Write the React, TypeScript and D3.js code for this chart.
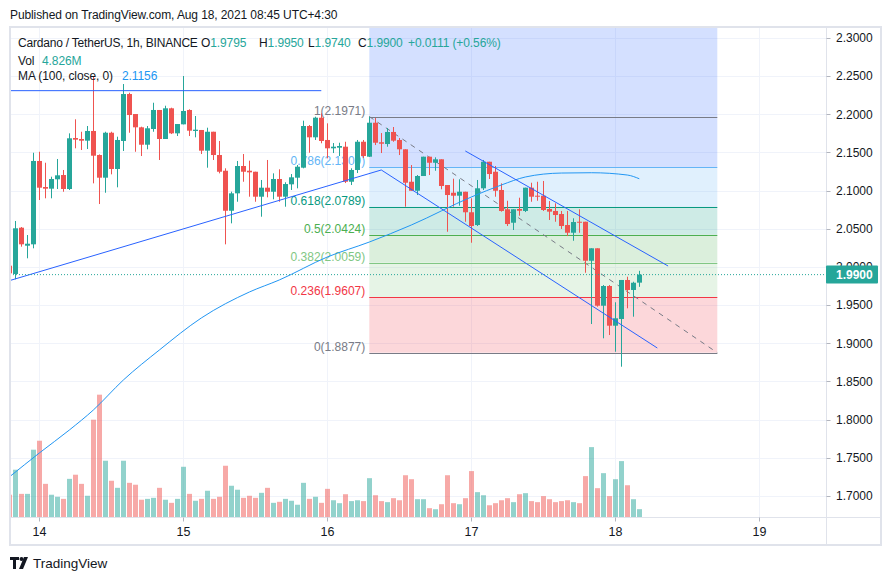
import React from 'react';
import * as d3 from 'd3';

// hourly candles, Aug 13 19:00 UTC -> Aug 18 04:00 UTC, [open, high, low, close]
const firstCandle = Date.UTC(2021, 7, 13, 19);
const candles: number[][] = [
  [2.0017, 2.0039, 1.9895, 1.9917], [1.9908, 2.0603, 1.9839, 2.0507], [2.0515, 2.0524, 2.0266, 2.0297],
  [2.0279, 2.0419, 2.0114, 2.0305], [2.0297, 2.1497, 2.0245, 2.1389], [2.1389, 2.151, 2.0878, 2.1039],
  [2.1048, 2.1366, 2.09, 2.1026], [2.1026, 2.1183, 2.09, 2.1153], [2.1149, 2.1415, 2.1022, 2.1201],
  [2.1205, 2.1271, 2.0986, 2.1022], [2.1022, 2.1751, 2.1009, 2.1686], [2.169, 2.1935, 2.1555, 2.1668],
  [2.1677, 2.1772, 2.1533, 2.1655], [2.1655, 2.1847, 2.1546, 2.1782], [2.1782, 2.2489, 2.1096, 2.1458],
  [2.1467, 2.1475, 2.0825, 2.117], [2.117, 2.1772, 2.0973, 2.1759], [2.1759, 2.1772, 2.1214, 2.1284],
  [2.1284, 2.1707, 2.1044, 2.1664], [2.1651, 2.2397, 2.152, 2.2266], [2.2266, 2.2283, 2.1759, 2.1991],
  [2.2004, 2.2004, 2.151, 2.183], [2.183, 2.1838, 2.1454, 2.1602], [2.1602, 2.1847, 2.1542, 2.1817],
  [2.1808, 2.2152, 2.1772, 2.2057], [2.2057, 2.2057, 2.1402, 2.1677], [2.1677, 2.2113, 2.1677, 2.2079],
  [2.2079, 2.2087, 2.1742, 2.1751], [2.1751, 2.1873, 2.1716, 2.1873], [2.1869, 2.2502, 2.1869, 2.2044],
  [2.2057, 2.2066, 2.1716, 2.1786], [2.1782, 2.1978, 2.1699, 2.1799], [2.1795, 2.1795, 2.148, 2.1524],
  [2.1524, 2.1825, 2.1301, 2.1772], [2.1772, 2.1772, 2.1402, 2.1467], [2.1467, 2.1651, 2.1227, 2.1248],
  [2.1261, 2.1293, 2.0297, 2.0737], [2.0737, 2.0987, 2.0572, 2.0965], [2.0965, 2.1389, 2.0855, 2.1323],
  [2.1323, 2.148, 2.1117, 2.1248], [2.1261, 2.1393, 2.0921, 2.124], [2.1248, 2.1248, 2.0855, 2.0921],
  [2.0921, 2.114, 2.0659, 2.1039], [2.1039, 2.1402, 2.0913, 2.0986], [2.0986, 2.1227, 2.0887, 2.1153],
  [2.1153, 2.128, 2.0855, 2.0921], [2.0921, 2.111, 2.079, 2.1087], [2.1083, 2.1218, 2.1009, 2.1175],
  [2.117, 2.1336, 2.1031, 2.1314], [2.1301, 2.1917, 2.1293, 2.1847], [2.1847, 2.186, 2.1497, 2.1699],
  [2.1699, 2.1969, 2.1664, 2.1956], [2.1956, 2.2013, 2.1621, 2.1651], [2.1664, 2.1882, 2.1424, 2.1555],
  [2.1555, 2.1624, 2.1493, 2.1576], [2.1563, 2.1628, 2.1454, 2.1585], [2.1576, 2.1641, 2.11, 2.1117],
  [2.1117, 2.1293, 2.1074, 2.1271], [2.1271, 2.1664, 2.1231, 2.1641], [2.1641, 2.1664, 2.1428, 2.1454],
  [2.1445, 2.1971, 2.1441, 2.189], [2.189, 2.1952, 2.1598, 2.1628], [2.1634, 2.1755, 2.1493, 2.1615],
  [2.1611, 2.1821, 2.1576, 2.1769], [2.1769, 2.1834, 2.1641, 2.1655], [2.1664, 2.169, 2.1467, 2.1542],
  [2.1542, 2.1542, 2.079, 2.1104], [2.1117, 2.1336, 2.0999, 2.0999], [2.0999, 2.1205, 2.0943, 2.1192],
  [2.1192, 2.1445, 2.1192, 2.1445], [2.1445, 2.1445, 2.1205, 2.1366], [2.1366, 2.1437, 2.1261, 2.1411],
  [2.1411, 2.1411, 2.1018, 2.1061], [2.1074, 2.1074, 2.0462, 2.0943], [2.0973, 2.1157, 2.079, 2.0934],
  [2.0934, 2.1149, 2.0803, 2.0986], [2.0986, 2.0986, 2.0593, 2.0717], [2.0717, 2.09, 2.0318, 2.0537],
  [2.055, 2.114, 2.0537, 2.1031], [2.1031, 2.1402, 2.1009, 2.1379], [2.1379, 2.1379, 2.1153, 2.1218],
  [2.1248, 2.1323, 2.0921, 2.0999], [2.1009, 2.1096, 2.0725, 2.0734], [2.0756, 2.0868, 2.0537, 2.0563],
  [2.058, 2.0756, 2.0485, 2.0756], [2.076, 2.0908, 2.0672, 2.0737], [2.0734, 2.1039, 2.072, 2.1039],
  [2.1039, 2.1104, 2.0855, 2.0921], [2.0934, 2.1117, 2.0868, 2.0921], [2.0934, 2.1127, 2.0734, 2.0747],
  [2.076, 2.0864, 2.0616, 2.0725], [2.0734, 2.0834, 2.0593, 2.0681], [2.0694, 2.0734, 2.0498, 2.0537],
  [2.055, 2.0734, 2.0406, 2.0449], [2.0449, 2.0638, 2.0344, 2.0589], [2.0593, 2.0756, 2.0449, 2.058],
  [2.0593, 2.0593, 1.9925, 2.0082], [2.0082, 2.0245, 1.9253, 2.0245], [2.0245, 2.0245, 1.948, 1.9493],
  [1.9493, 1.9764, 1.9066, 1.9751], [1.9751, 1.9764, 1.9109, 1.9231], [1.9231, 1.9538, 1.889, 1.9328],
  [1.9319, 1.983, 1.8694, 1.983], [1.983, 1.9873, 1.9459, 1.9699], [1.9699, 1.9807, 1.9349, 1.9794],
  [1.9795, 1.995, 1.974, 1.99],
];

// volume in millions
const volumes = [
  13.2, 27.7, 13.7, 13.7, 39.3, 44.5, 19.5, 13.2, 12.0, 10.8, 22.4, 24.8, 19.5, 12.6, 56.7, 71.2, 32.9, 21.3,
  17.2, 32.9, 20.1, 19.0, 10.3, 10.8, 11.4, 17.2, 10.3, 8.5, 10.8, 29.4, 13.7, 9.7, 10.8, 15.5, 10.8, 12.0,
  30.0, 18.4, 16.1, 11.4, 12.6, 11.4, 14.3, 17.2, 8.5, 9.1, 10.8, 9.7, 7.4, 20.1, 10.8, 12.0, 8.5, 16.6,
  10.0, 8.3, 13.5, 9.5, 10.0, 9.5, 22.8, 12.9, 9.5, 8.9, 11.2, 10.0, 24.5, 22.2, 10.6, 10.6, 5.4, 4.8,
  7.7, 24.5, 8.3, 7.7, 11.2, 26.9, 14.7, 12.9, 7.1, 8.3, 10.0, 11.2, 8.9, 13.5, 14.1, 9.5, 8.9, 12.4,
  10.6, 8.9, 9.5, 10.0, 8.9, 8.3, 24.0, 40.8, 17.0, 25.7, 12.4, 22.2, 32.7, 18.7, 10.6, 4.826,
];

// MA(100) read at hours since Aug 14 00:00 UTC
const maHours = [-5, 0, 5, 9, 14, 20, 27, 35, 40, 48, 55, 62, 72, 77, 81, 87, 92, 98, 100];
const maValues = [1.7249, 1.7563, 1.7864, 1.8126, 1.8519, 1.8912, 1.9332, 1.9672, 1.983, 2.0131, 2.0327,
  2.055, 2.0917, 2.1074, 2.1179, 2.1231, 2.1235, 2.1205, 2.1156];

const priceTicks = [2.3, 2.25, 2.2, 2.15, 2.1, 2.05, 2.0, 1.95, 1.9, 1.85, 1.8, 1.75, 1.7];
const dayLabels = ['14', '15', '16', '17', '18', '19'];

// drawings: [hour, price]
const resistance = [[-6, 2.231], [47, 2.231]];
const trendLine = [[-4.9, 1.9823], [57, 2.1271], [103, 1.8939]];
const channelTop = [[71, 2.152], [104.8, 2.0013]];
const fibStart = [55, 2.1971];
const fibEnd = [113, 1.8877];
const fibLevels = [0, 0.236, 0.382, 0.5, 0.618, 0.786, 1, 1.618];
const fibColors = ['#787b86', '#f23645', '#81c784', '#4caf50', '#089981', '#64b5f6', '#787b86', '#2962ff'];

const UP = '#26a69a';
const DOWN = '#ef5350';
const FONT = "'Liberation Sans', Arial, sans-serif";

const HOUR = 3600 * 1000;
const day0 = Date.UTC(2021, 7, 14);

const App = () => {
  const pane = { left: 10, right: 826.5, top: 27, bottom: 517.5 };
  const x = d3.scaleUtc().domain([new Date(day0), new Date(Date.UTC(2021, 7, 19))]).range([39.3, 759.3]);
  const xh = (h: number) => x(new Date(day0 + h * HOUR));
  const y = d3.scaleLinear().domain([1.7, 2.3]).range([496, 38]);
  const yv = d3.scaleLinear().domain([0, 80]).range([pane.bottom, pane.bottom - 138]);

  const bars = candles.map((c, i) => {
    const t = new Date(firstCandle + i * HOUR);
    return { t, o: c[0], h: c[1], l: c[2], c: c[3], v: volumes[i], up: c[3] >= c[0] };
  });

  const line = d3.line<number[]>().x((d) => xh(d[0])).y((d) => y(d[1]));
  const maLine = d3.line<number>()
    .x((d, i) => xh(maHours[i]))
    .y((d) => y(d))
    .curve(d3.curveMonotoneX);

  const fibX0 = xh(fibStart[0]);
  const fibX1 = xh(fibEnd[0]);
  const fibPrice = (lv: number) => fibEnd[1] + lv * (fibStart[1] - fibEnd[1]);
  const last = candles[candles.length - 1];
  const lastClose = last[3];

  return (
    <svg width={892} height={581} style={{ position: 'absolute', left: 0, top: 0, background: '#fff' }}
      fontFamily={FONT}>
      <defs>
        <clipPath id="pane">
          <rect x={pane.left} y={pane.top} width={pane.right - pane.left} height={pane.bottom - pane.top} />
        </clipPath>
      </defs>

      <text x={10} y={19} fontSize={12} letterSpacing={-0.1} fill="#131722">
        Published on TradingView.com, Aug 18, 2021 08:45 UTC+4:30
      </text>

      {/* grid */}
      <g stroke="#f0f3fa" strokeWidth={1}>
        {priceTicks.map((p) => (
          <line key={p} x1={pane.left} x2={pane.right} y1={Math.round(y(p)) + 0.5} y2={Math.round(y(p)) + 0.5} />
        ))}
        {dayLabels.map((d, i) => {
          const px = Math.round(xh(i * 24)) + 0.5;
          return <line key={d} x1={px} x2={px} y1={pane.top} y2={pane.bottom} />;
        })}
      </g>

      <g clipPath="url(#pane)">
        {/* fibonacci retracement */}
        {fibLevels.slice(0, -1).map((lv, i) => {
          const yA = y(fibPrice(fibLevels[i + 1]));
          const yB = y(fibPrice(lv));
          return (
            <rect key={lv} x={fibX0} y={yA} width={fibX1 - fibX0} height={yB - yA}
              fill={fibColors[i + 1 === 6 ? 7 : i + 1]} fillOpacity={0.2} />
          );
        })}
        {fibLevels.map((lv, i) => {
          const py = Math.round(y(fibPrice(lv))) + 0.5;
          if (py < pane.top) return null;
          return (
            <g key={lv}>
              <line x1={fibX0} x2={fibX1} y1={py} y2={py} stroke={fibColors[i]} strokeWidth={1} />
              <text x={fibX0 - 4} y={py - 3} textAnchor="end" fontSize={12} fill={fibColors[i]}>
                {`${lv}(${fibPrice(lv).toFixed(4)})`}
              </text>
            </g>
          );
        })}
        <path d={line([fibStart, fibEnd]) ?? ''} stroke="#787b86" strokeWidth={1} strokeDasharray="5 5" fill="none" />

        {/* volume */}
        {bars.map((b, i) => (
          <rect key={'v' + i} x={Math.round(x(b.t) - 2.5)} width={5} y={yv(b.v)} height={pane.bottom - yv(b.v)}
            fill={b.up ? UP : DOWN} fillOpacity={0.5} />
        ))}

        {/* candles */}
        {bars.map((b, i) => {
          const bx = Math.round(x(b.t) - 2.5);
          const top = y(Math.max(b.o, b.c));
          const bot = y(Math.min(b.o, b.c));
          const col = b.up ? UP : DOWN;
          return (
            <g key={'c' + i} fill={col}>
              <rect x={bx + 2} width={1} y={y(b.h)} height={Math.max(1, y(b.l) - y(b.h))} />
              <rect x={bx} width={5} y={top} height={Math.max(1, bot - top)} />
            </g>
          );
        })}

        <path d={maLine(maValues) ?? ''} stroke="#2196f3" strokeWidth={1} fill="none" />

        <g stroke="#2962ff" strokeWidth={1} fill="none">
          <path d={line(resistance) ?? ''} />
          <path d={line(trendLine) ?? ''} />
          <path d={line(channelTop) ?? ''} />
        </g>

        <line x1={pane.left} x2={pane.right} y1={y(lastClose)} y2={y(lastClose)} stroke={UP} strokeWidth={1}
          strokeDasharray="1 2" />
      </g>

      {/* legend */}
      <g fontSize={12} letterSpacing={-0.1}>
        <text x={18} y={47} fill="#131722" letterSpacing={-0.2}>Cardano / TetherUS, 1h, BINANCE</text>
        <text x={201} y={47} fill="#131722">O<tspan fill={UP}>{last[0].toFixed(4)}</tspan></text>
        <text x={259} y={47} fill="#131722">H<tspan fill={UP}>{last[1].toFixed(4)}</tspan></text>
        <text x={308} y={47} fill="#131722">L<tspan fill={UP}>{last[2].toFixed(4)}</tspan></text>
        <text x={358} y={47} fill="#131722">C<tspan fill={UP}>{last[3].toFixed(4)}</tspan></text>
        <text x={408} y={47} fill={UP}>+0.0111 (+0.56%)</text>
        <text x={18} y={65} fill="#131722">Vol</text>
        <text x={42} y={65} fill={UP}>{volumes[volumes.length - 1].toFixed(3)}M</text>
        <text x={18} y={80} fill="#131722">MA (100, close, 0)</text>
        <text x={122} y={80} fill="#2196f3">{maValues[maValues.length - 1].toFixed(4)}</text>
      </g>

      {/* axes */}
      <line x1={pane.right} x2={pane.right} y1={pane.top} y2={545} stroke="#e0e3eb" />
      <line x1={pane.left} x2={881} y1={pane.bottom} y2={pane.bottom} stroke="#e0e3eb" />
      {priceTicks.map((p) => (
        <g key={'t' + p}>
          <line x1={pane.right} x2={pane.right + 4} y1={Math.round(y(p)) + 0.5} y2={Math.round(y(p)) + 0.5} stroke="#b2b5be" />
          <text x={836} y={y(p)} dy="0.35em" fontSize={12} fill="#131722">{p.toFixed(4)}</text>
        </g>
      ))}
      {dayLabels.map((d, i) => {
        const px = Math.round(xh(i * 24)) + 0.5;
        return (
          <g key={'d' + d}>
            <line x1={px} x2={px} y1={pane.bottom} y2={pane.bottom + 4} stroke="#b2b5be" />
            <text x={px} y={536} textAnchor="middle" fontSize={12.5} fill="#131722">{d}</text>
          </g>
        );
      })}
      <rect x={826} y={265.5} width={52} height={18} rx={1} fill={UP} />
      <text x={836} y={y(lastClose)} dy="0.35em" fontSize={12} fill="#fff" fontWeight="bold">{lastClose.toFixed(4)}</text>

      <rect x={10} y={27} width={871} height={518} fill="none" stroke="#e0e3eb" strokeWidth={2} />

      {/* footer logo */}
      <g fill="#131722">
        <path d="M10 557h9v3h-3v9h-3v-9h-3z" />
        <circle cx={21.5} cy={559} r={2} />
        <path d="M24 557h4l-5 12h-4z" />
      </g>
      <text x={33} y={568} fontSize={13.5} fill="#131722">TradingView</text>
    </svg>
  );
};

export default App;
